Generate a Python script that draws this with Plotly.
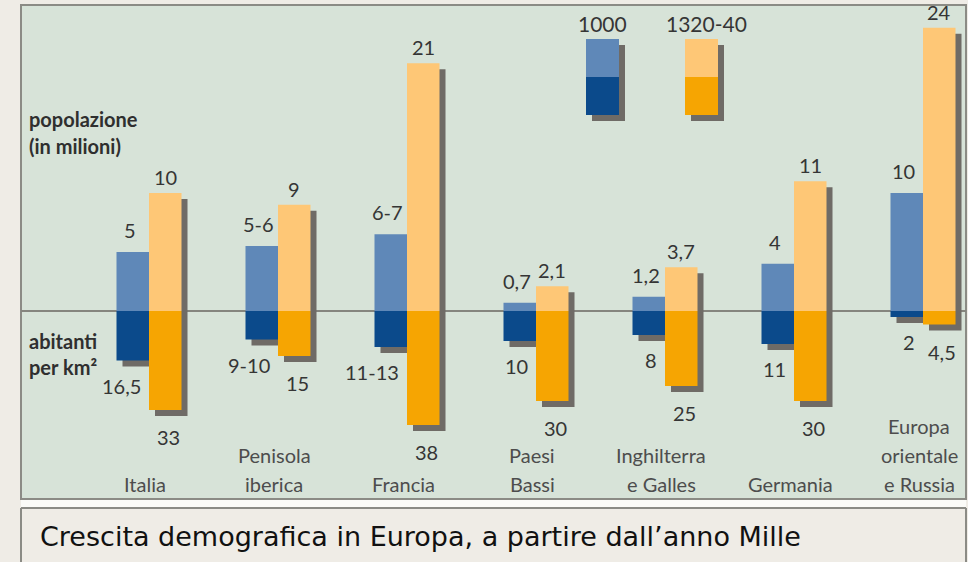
import plotly.graph_objects as go

# ---------------- data ----------------
categories = ["Italia", "Penisola iberica", "Francia", "Paesi Bassi",
              "Inghilterra e Galles", "Germania", "Europa orientale e Russia"]
category_lines = [["Italia"], ["Penisola", "iberica"], ["Francia"], ["Paesi", "Bassi"],
                  ["Inghilterra", "e Galles"], ["Germania"], ["Europa", "orientale", "e Russia"]]

# popolazione (milioni)
pop_1000 = [5, 5.5, 6.5, 0.7, 1.2, 4, 10]
pop_1000_labels = ["5", "5-6", "6-7", "0,7", "1,2", "4", "10"]
pop_1340 = [10, 9, 21, 2.1, 3.7, 11, 24]
pop_1340_labels = ["10", "9", "21", "2,1", "3,7", "11", "24"]

# abitanti per km²
dens_1000 = [16.5, 9.5, 12, 10, 8, 11, 2]
dens_1000_labels = ["16,5", "9-10", "11-13", "10", "8", "11", "2"]
dens_1340 = [33, 15, 38, 30, 25, 30, 4.5]
dens_1340_labels = ["33", "15", "38", "30", "25", "30", "4,5"]

legend_labels = ["1000", "1320-40"]
caption = "Crescita demografica in Europa, a partire dall’anno Mille"

# ---------------- style / layout constants ----------------
W, H = 968, 562
ZERO_PX = 311          # pixel row of the zero line
X0_PX, STEP_PX = 149, 129
POP_PX = 11.8          # px per million
DEN_PX = 3.0           # px per ab/km²
BW = 32.5 / STEP_PX    # bar width in category units
SH = 6                 # shadow offset px

C_BLUE_L = "#5f88b8"
C_BLUE_D = "#0b4a8b"
C_ORA_L = "#fec776"
C_ORA_D = "#f6a502"
C_SHADOW = "#6f6b66"
C_PANEL = "#d7e3d8"
C_BG = "#efece6"
C_BORDER = "#8b8b85"
C_TEXT = "#353535"
C_CAT = "#4d4d4d"
FONT = "Lato, 'Open Sans', sans-serif"

xs = list(range(len(categories)))
sx = SH / STEP_PX


def bar(vals, sign, offset, color, yaxis, base):
    return go.Bar(x=xs, y=[sign * v for v in vals], base=base, offset=offset, width=BW,
                  marker=dict(color=color, line=dict(width=0), opacity=1),
                  yaxis=yaxis, hoverinfo="skip", showlegend=False)


fig = go.Figure()
# upper (population) shadows then bars
fig.add_trace(bar(pop_1000, 1, -BW + sx, C_SHADOW, "y", -SH / POP_PX))
fig.add_trace(bar(pop_1340, 1, sx, C_SHADOW, "y", -SH / POP_PX))
fig.add_trace(bar(pop_1000, 1, -BW, C_BLUE_L, "y", 0))
fig.add_trace(bar(pop_1340, 1, 0, C_ORA_L, "y", 0))
# lower (density) shadows then bars
fig.add_trace(bar(dens_1000, -1, -BW + sx, C_SHADOW, "y2", -SH / DEN_PX))
fig.add_trace(bar(dens_1340, -1, sx, C_SHADOW, "y2", -SH / DEN_PX))
fig.add_trace(bar(dens_1000, -1, -BW, C_BLUE_D, "y2", 0))
fig.add_trace(bar(dens_1340, -1, 0, C_ORA_D, "y2", 0))


def py(px):
    return 1 - px / H


def pxx(px):
    return px / W


shapes = []
# outer panel
shapes.append(dict(type="rect", xref="paper", yref="paper", x0=pxx(21), x1=pxx(966),
                   y0=py(499), y1=py(5), fillcolor=C_PANEL, line=dict(color=C_BORDER, width=2),
                   layer="below"))
# white strip below panel
shapes.append(dict(type="rect", xref="paper", yref="paper", x0=pxx(21), x1=pxx(966),
                   y0=py(507), y1=py(500), fillcolor="#fbfbf8", line=dict(width=0), layer="below"))
# caption box border
shapes.append(dict(type="line", xref="paper", yref="paper", x0=pxx(21), x1=pxx(966),
                   y0=py(508), y1=py(508), line=dict(color=C_BORDER, width=2), layer="below"))
shapes.append(dict(type="line", xref="paper", yref="paper", x0=pxx(21), x1=pxx(21),
                   y0=py(508), y1=0, line=dict(color=C_BORDER, width=2), layer="below"))
shapes.append(dict(type="line", xref="paper", yref="paper", x0=pxx(966), x1=pxx(966),
                   y0=py(508), y1=0, line=dict(color=C_BORDER, width=2), layer="below"))
# zero line
shapes.append(dict(type="line", xref="paper", yref="y", x0=pxx(21), x1=pxx(966),
                   y0=0, y1=0, line=dict(color="#85857e", width=2), layer="below"))

# legend swatches
for (x0, cl, cd) in [(586, C_BLUE_L, C_BLUE_D), (685, C_ORA_L, C_ORA_D)]:
    shapes.append(dict(type="rect", xref="paper", yref="paper", x0=pxx(x0 + SH), x1=pxx(x0 + 33 + SH),
                       y0=py(115 + SH), y1=py(39 + SH), fillcolor=C_SHADOW, line=dict(width=0)))
    shapes.append(dict(type="rect", xref="paper", yref="paper", x0=pxx(x0), x1=pxx(x0 + 33),
                       y0=py(77), y1=py(39), fillcolor=cl, line=dict(width=0)))
    shapes.append(dict(type="rect", xref="paper", yref="paper", x0=pxx(x0), x1=pxx(x0 + 33),
                       y0=py(115), y1=py(77), fillcolor=cd, line=dict(width=0)))

ann = []
VF = dict(family=FONT, size=20, color=C_TEXT)
for i in xs:
    # population labels
    ann.append(dict(x=i - BW / 2, y=pop_1000[i], xref="x", yref="y", text=pop_1000_labels[i],
                    showarrow=False, yanchor="middle", yshift=22, xshift=-3, font=VF))
    ann.append(dict(x=i + BW / 2, y=pop_1340[i], xref="x", yref="y", text=pop_1340_labels[i],
                    showarrow=False, yanchor="middle", yshift=16, font=VF))
    # density labels
    ann.append(dict(x=i, y=-dens_1000[i], xref="x", yref="y2", text=dens_1000_labels[i],
                    showarrow=False, yanchor="middle", xanchor="right", yshift=-25, xshift=-6,
                    font=VF))
    ann.append(dict(x=i + BW / 2, y=-dens_1340[i], xref="x", yref="y2", text=dens_1340_labels[i],
                    showarrow=False, yanchor="middle", yshift=-27, xshift=3, font=VF))
    # category labels (bottom-aligned, one annotation per line)
    lines = category_lines[i]
    for k, line in enumerate(reversed(lines)):
        ann.append(dict(x=i, y=py(484), xref="x", yref="paper", text=line, showarrow=False,
                        yanchor="middle", xshift=-4, yshift=29 * k,
                        font=dict(family=FONT, size=20, color=C_CAT)))

# axis titles
TF = dict(family=FONT, size=20, color="#2f2f2f")
for txt, ypx in [("<b>popolazione</b>", 119), ("<b>(in milioni)</b>", 146),
                 ("<b>abitanti</b>", 341), ("<b>per km²</b>", 367)]:
    ann.append(dict(x=pxx(27), y=py(ypx), xref="paper", yref="paper", text=txt, showarrow=False,
                    xanchor="left", yanchor="middle", font=TF))

# legend labels
for txt, cx in zip(legend_labels, [602, 706]):
    ann.append(dict(x=pxx(cx), y=py(23), xref="paper", yref="paper", text=txt, showarrow=False,
                    xanchor="center", yanchor="middle", font=dict(family=FONT, size=21, color=C_TEXT)))

# caption
ann.append(dict(x=pxx(38), y=py(536), xref="paper", yref="paper", text=caption, showarrow=False,
                xanchor="left", yanchor="middle",
                font=dict(family="'DejaVu Sans', sans-serif", size=27, color="#111111")))

fig.update_layout(
    width=W, height=H, margin=dict(l=0, r=0, t=0, b=0),
    paper_bgcolor=C_BG, plot_bgcolor="rgba(0,0,0,0)",
    barmode="overlay", showlegend=False,
    xaxis=dict(range=[-X0_PX / STEP_PX, (W - X0_PX) / STEP_PX], visible=False, fixedrange=True),
    yaxis=dict(range=[-(H - ZERO_PX) / POP_PX, ZERO_PX / POP_PX], visible=False, fixedrange=True),
    yaxis2=dict(range=[-(H - ZERO_PX) / DEN_PX, ZERO_PX / DEN_PX], visible=False,
                overlaying="y", fixedrange=True),
    shapes=shapes, annotations=ann,
)

fig.write_html("out.html", config=dict(displayModeBar=False),
               post_script="document.body.style.margin='0';document.body.style.overflow='hidden';")
